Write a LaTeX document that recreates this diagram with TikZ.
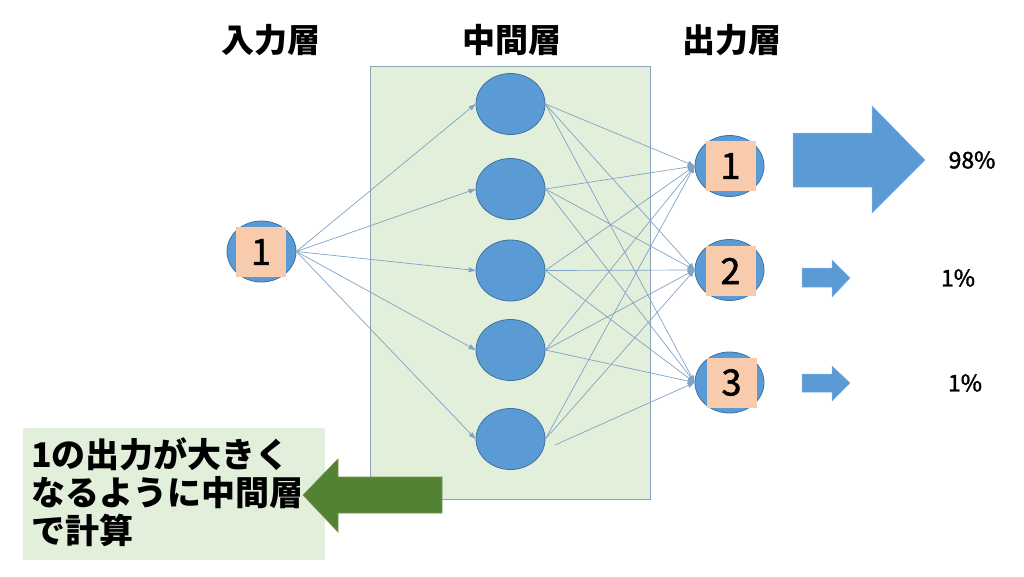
\documentclass[tikz,border=0pt]{standalone}
\usepackage{fontspec}
\setmainfont{Noto Sans CJK JP}
\newfontfamily\semibold[FakeBold=1.6]{Noto Sans CJK JP}
\usetikzlibrary{arrows.meta,shapes.geometric}
\definecolor{nodeblue}{HTML}{5B9BD5}
\definecolor{nodeedge}{HTML}{41719C}
\definecolor{salmon}{HTML}{F8CBAD}
\definecolor{palegreen}{HTML}{E2EFDA}
\definecolor{boxedge}{HTML}{8BA3B8}
\definecolor{linkc}{HTML}{7FA3C6}
\definecolor{darkgreen}{HTML}{548235}
\begin{document}
\begin{tikzpicture}[x=1pt,y=-1pt,
  neuron/.style={ellipse,draw=nodeedge,line width=0.8pt,fill=nodeblue,minimum width=69pt,minimum height=61pt,inner sep=0pt},
  numbox/.style={rectangle,fill=salmon,minimum width=50pt,minimum height=50pt,inner sep=0pt,font=\semibold\fontsize{36}{36}\selectfont},
  title/.style={font=\bfseries\fontsize{33}{33}\selectfont,inner sep=0pt},
  pct/.style={font=\semibold\fontsize{23}{23}\selectfont,inner sep=0pt},
  link/.style={draw=linkc,line width=0.7pt,-{Triangle[length=7pt,width=5pt]}},
  note/.style={font=\bfseries\fontsize{34}{34}\selectfont,inner sep=0pt,anchor=base west},
  bigarrow/.style={fill=nodeblue,draw=nodeblue!80!white,line width=0.5pt}
]
\useasboundingbox (0,0) rectangle (1024,576);

% middle layer box
\node[draw=boxedge,fill=palegreen,line width=0.8pt,minimum width=280pt,minimum height=433pt,inner sep=0pt] (midbox) at (510,283) {};

% titles
\node[title] (t1) at (271,40) {入力層};
\node[title] (t2) at (512,40) {中間層};
\node[title] (t3) at (732,40) {出力層};

% input
\node[neuron] (in) at (261.5,251.5) {};
\node[numbox] (insq) at (261,252) {1};

% hidden
\node[neuron] (h1) at (510.5,104) {};
\node[neuron] (h2) at (510.5,189) {};
\node[neuron] (h3) at (510.5,270.5) {};
\node[neuron] (h4) at (510.5,350) {};
\node[neuron] (h5) at (510.5,439) {};

% outputs
\node[neuron] (o1) at (729.5,166) {};
\node[neuron] (o2) at (729.5,270) {};
\node[neuron] (o3) at (729.5,382.5) {};

% connectors input -> hidden
\foreach \h in {h1,h2,h3,h4,h5} \draw[link] (in.east) -- (\h.west);

% connectors hidden -> output
\foreach \h in {h1,h2,h3,h4,h5}
  \foreach \o in {o1,o2}
    \draw[link] (\h.east) -- (\o.west);
\foreach \h in {h1,h2,h3,h4} \draw[link] (\h.east) -- (o3.west);
\coordinate (h5off) at (555,445);
\draw[link] (h5off) -- (o3.west);

% number boxes of outputs
\node[numbox] (o1sq) at (730.5,166) {1};
\node[numbox] (o2sq) at (730.5,271) {2};
\node[numbox] (o3sq) at (731.5,382.5) {3};

% result arrows
\fill[bigarrow] (793,133) -- (872,133) -- (872,106) -- (925,160) -- (872,213) -- (872,187) -- (793,187) -- cycle;
\fill[bigarrow] (802,268) -- (832,268) -- (832,260) -- (850,278) -- (832,297) -- (832,287) -- (802,287) -- cycle;
\fill[bigarrow] (802,374) -- (832,374) -- (832,366) -- (850,383) -- (832,401) -- (832,392) -- (802,392) -- cycle;

\node[pct] (p1) at (972,160) {98\%};
\node[pct] (p2) at (958,278) {1\%};
\node[pct] (p3) at (965,383) {1\%};

% note box
\node[fill=palegreen,minimum width=302pt,minimum height=132pt,inner sep=0pt] (notebox) at (174,494) {};
\node[note] (n1) at (31,467) {1の出力が大きく};
\node[note] (n2) at (31,505) {なるように中間層};
\node[note] (n3) at (31,543) {で計算};

% green arrow
\draw[fill=darkgreen,draw=darkgreen!85!white,line width=0.6pt] (442,477) -- (338,477) -- (338,459) -- (303,495) -- (338,532) -- (338,513) -- (442,513) -- cycle;
\end{tikzpicture}
\end{document}
